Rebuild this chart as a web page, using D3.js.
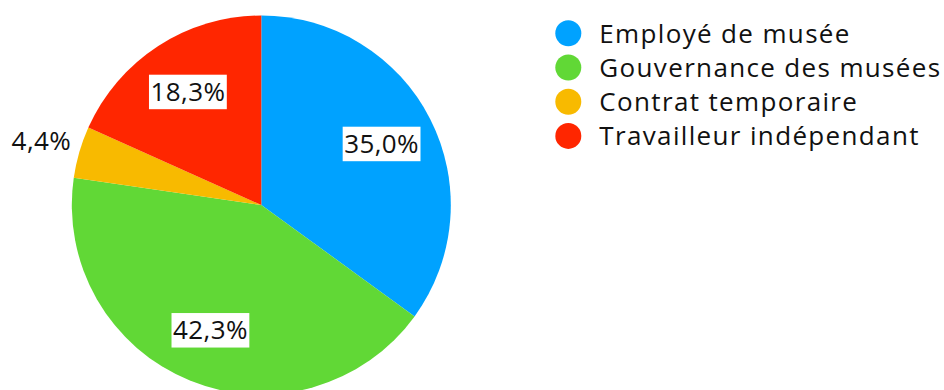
<!DOCTYPE html>
<html>
<head>
<meta charset="utf-8">
<script src="https://cdn.jsdelivr.net/npm/d3@7"></script>
<style>
  html, body { margin: 0; padding: 0; background: #fff; }
  svg { display: block; }
  text { font-family: "Open Sans", sans-serif; fill: #111; }
</style>
</head>
<body>
<svg id="chart" width="944" height="390"></svg>
<script>
const categories = ["Employé de musée", "Gouvernance des musées", "Contrat temporaire", "Travailleur indépendant"];
const values = [35.0, 42.3, 4.4, 18.3];
const labels = ["35,0%", "42,3%", "4,4%", "18,3%"];
const colors = ["#00A2FF", "#61D836", "#F8BA00", "#FF2600"];
const outsideLabel = [false, false, true, false];

const svg = d3.select("#chart");
const cx = 261.3, cy = 205, R = 189.5;

const data = categories.map((c, i) => ({ name: c, value: values[i], label: labels[i], color: colors[i], outside: outsideLabel[i] }));

const pie = d3.pie().value(d => d.value).sort(null);
const arc = d3.arc().innerRadius(0).outerRadius(R);
const labelArc = d3.arc().innerRadius(135).outerRadius(135);
const outArc = d3.arc().innerRadius(229).outerRadius(229);

const g = svg.append("g").attr("transform", `translate(${cx},${cy})`);
const arcs = pie(data);

g.selectAll("path.slice").data(arcs).enter().append("path")
  .attr("class", "slice")
  .attr("d", arc)
  .attr("fill", d => d.data.color);

const lg = g.selectAll("g.lbl").data(arcs).enter().append("g").attr("class", "lbl")
  .attr("transform", d => {
    const p = d.data.outside ? outArc.centroid(d) : labelArc.centroid(d);
    return `translate(${p[0]},${p[1]})`;
  });

lg.each(function(d) {
  const sel = d3.select(this);
  const t = sel.append("text")
    .attr("text-anchor", "middle")
    .attr("dy", "0.36em")
    .style("font-size", "26px")
    .style("letter-spacing", "0.4px")
    .text(d.data.label);
  if (!d.data.outside) {
    const bb = t.node().getBBox();
    sel.insert("rect", "text")
      .attr("x", bb.x - 1.5)
      .attr("y", -17)
      .attr("width", bb.width + 3)
      .attr("height", 34.5)
      .attr("fill", "#fff");
  }
});

// Legend
const legend = svg.append("g").attr("transform", "translate(568.3,33.3)");
const rowH = 34.2;
const items = legend.selectAll("g").data(data).enter().append("g")
  .attr("transform", (d, i) => `translate(0,${i * rowH})`);
items.append("circle").attr("r", 13).attr("fill", d => d.color);
items.append("text")
  .attr("x", 31)
  .attr("dy", "0.36em")
  .style("font-size", "26px")
  .style("letter-spacing", "1.35px")
  .text(d => d.name);
</script>
</body>
</html>
